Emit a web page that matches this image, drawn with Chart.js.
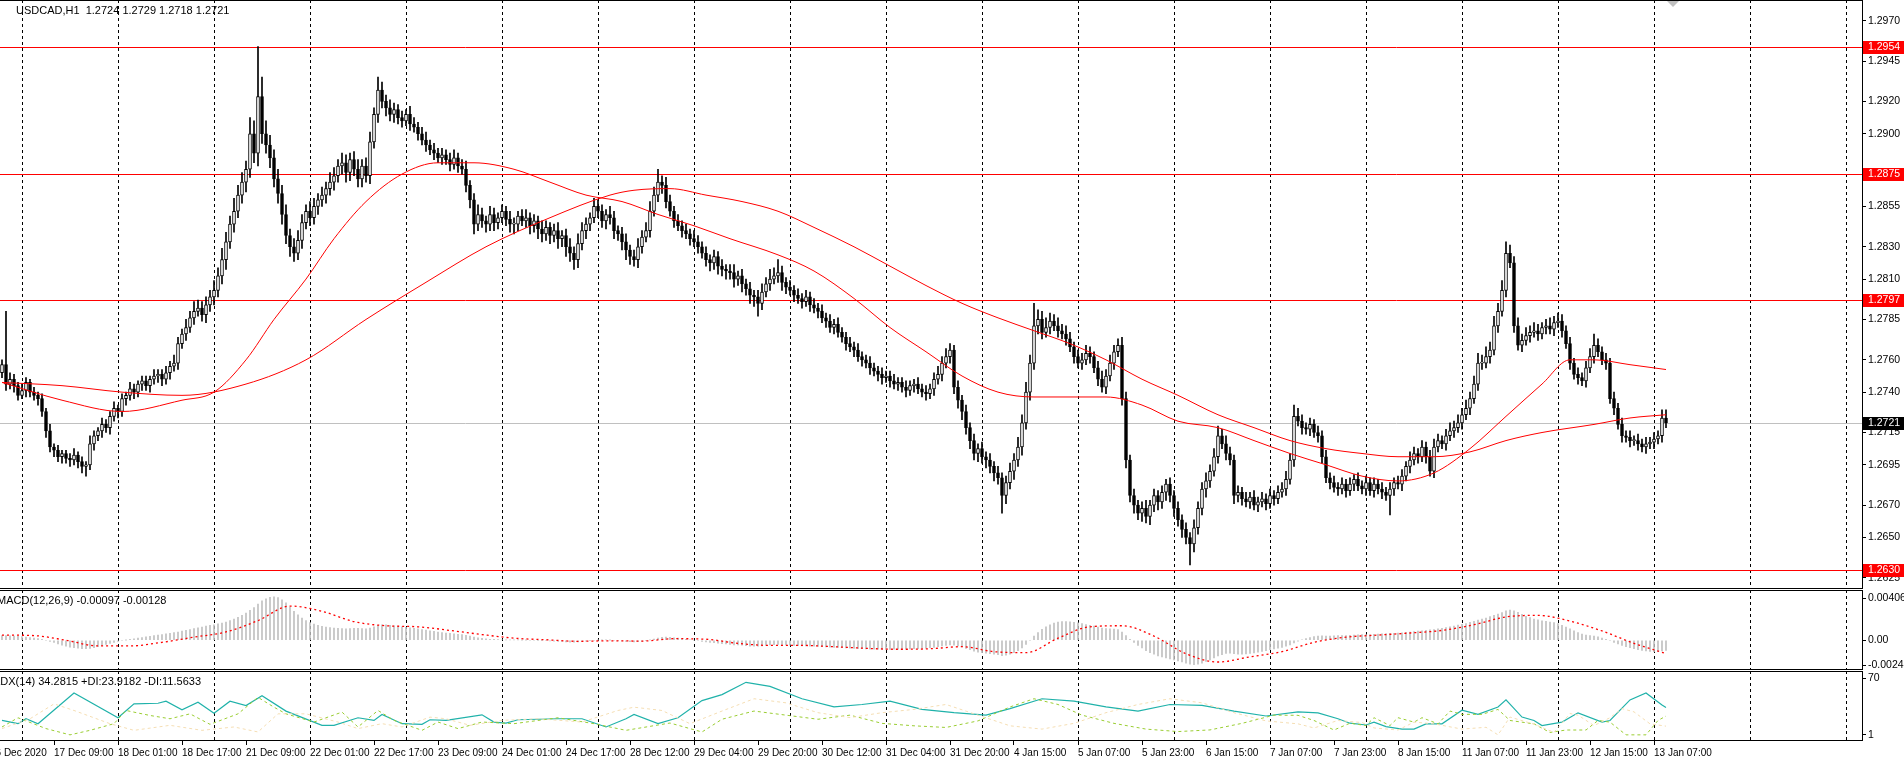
<!DOCTYPE html>
<html>
<head>
<meta charset="utf-8">
<script src="https://cdn.jsdelivr.net/npm/chart.js@4/dist/chart.umd.min.js"></script>
<style>
  html, body { margin: 0; padding: 0; background: #fff; overflow: hidden; }
  canvas { position: absolute; left: 0; }
</style>
</head>
<body>
<canvas id="main" width="1904" height="589" style="top:0"></canvas>
<canvas id="macd" width="1904" height="80" style="top:590px"></canvas>
<canvas id="adx" width="1904" height="89" style="top:671px"></canvas>
<script>
// USDCAD H1, prices in pips (2757 -> 1.2757)
const firstOpen = 2752;
const closes = [
  2757,2745,2748,2744,2738,2741,2746,2740,2738,2736,
  2728,2716,2706,2704,2700,2702,2699,2698,2701,2697,
  2694,2695,2708,2713,2716,2720,2718,2725,2730,2728,
  2736,2738,2742,2740,2745,2747,2744,2748,2750,2751,
  2748,2752,2756,2758,2770,2776,2780,2786,2790,2792,
  2788,2794,2799,2803,2812,2822,2833,2844,2852,2862,
  2870,2878,2900,2888,2923,2900,2893,2885,2872,2863,
  2850,2837,2830,2826,2834,2845,2852,2848,2855,2859,
  2862,2866,2870,2874,2880,2882,2876,2884,2878,2872,
  2880,2874,2895,2912,2927,2920,2916,2912,2915,2910,
  2908,2912,2906,2904,2900,2896,2893,2890,2888,2885,
  2887,2884,2881,2885,2880,2878,2868,2859,2844,2850,
  2846,2844,2850,2845,2848,2852,2847,2844,2844,2849,
  2846,2848,2843,2846,2841,2838,2842,2837,2840,2835,
  2837,2830,2826,2822,2832,2840,2844,2848,2855,2852,
  2846,2850,2848,2840,2838,2833,2828,2824,2822,2830,
  2836,2840,2852,2862,2870,2868,2858,2852,2846,2843,
  2840,2838,2835,2833,2830,2826,2822,2820,2824,2818,
  2816,2815,2814,2810,2812,2807,2804,2800,2799,2795,
  2802,2807,2810,2812,2814,2808,2805,2803,2800,2798,
  2796,2799,2794,2792,2790,2786,2784,2780,2782,2777,
  2774,2770,2768,2766,2762,2760,2758,2755,2753,2751,
  2749,2750,2747,2745,2746,2743,2741,2744,2745,2742,
  2740,2739,2742,2748,2751,2758,2762,2766,2743,2735,
  2728,2718,2710,2702,2705,2700,2698,2694,2690,2687,
  2676,2684,2691,2698,2706,2721,2740,2758,2781,2785,
  2777,2780,2784,2781,2778,2776,2773,2768,2762,2758,
  2760,2764,2762,2755,2748,2743,2750,2758,2765,2769,
  2736,2698,2676,2670,2665,2668,2663,2670,2676,2672,
  2678,2683,2676,2668,2661,2655,2650,2646,2656,2668,
  2680,2685,2691,2700,2713,2708,2702,2698,2676,2678,
  2674,2672,2675,2670,2672,2674,2671,2676,2674,2678,
  2680,2686,2698,2725,2722,2718,2717,2720,2715,2713,
  2700,2687,2684,2681,2680,2683,2679,2683,2686,2682,
  2680,2684,2679,2683,2680,2678,2676,2680,2684,2683,
  2688,2694,2698,2702,2700,2706,2700,2691,2706,2710,
  2708,2713,2716,2718,2721,2726,2730,2736,2745,2758,
  2758,2762,2766,2781,2790,2803,2826,2820,2781,2769,
  2772,2775,2777,2778,2776,2780,2781,2779,2783,2784,
  2778,2770,2758,2751,2749,2747,2755,2762,2769,2765,
  2760,2758,2736,2730,2720,2713,2712,2710,2710,2708,
  2706,2708,2709,2711,2713,2724,2721
];
// wick length above the body / below the body, pips
const wickUp = [
  3,33,4,3,2,4,3,2,3,2, 3,2,4,2,3,2,2,3,4,2, 3,2,5,3,2,4,3,3,4,2, 3,2,4,3,2,3,3,2,4,3,
  3,4,3,5,4,3,5,4,6,5, 4,5,4,6,5,7,6,5,8,6, 6,5,10,8,31,12,8,6,5,6, 5,6,4,5,6,5,4,6,5,4,
  5,4,6,5,4,6,5,4,5,6, 4,5,6,4,8,5,4,5,4,3, 4,3,5,4,3,4,5,3,4,3, 4,3,4,5,3,4,5,3,4,6,
  4,3,5,4,3,4,3,5,4,3, 4,5,3,4,3,5,4,3,4,5, 3,4,5,4,6,5,4,3,5,4, 4,3,5,4,3,4,5,3,4,5,
  4,5,6,5,8,4,5,4,3,4, 3,4,3,5,4,3,4,3,4,3, 4,3,4,5,3,4,3,4,3,4, 5,4,6,5,8,4,3,4,3,4,
  3,4,3,4,3,4,3,4,3,4, 3,3,4,3,4,3,3,4,3,3, 4,3,3,4,3,3,4,3,3,4, 3,4,3,4,5,4,5,4,3,4,
  3,4,3,4,3,4,3,4,3,4, 3,4,5,4,6,5,6,5,14,6, 5,6,5,4,5,4,5,4,3,4, 4,5,4,3,4,5,4,5,4,4,
  5,4,3,4,3,4,5,3,4,3, 4,3,4,3,4,3,4,3,5,4, 4,5,4,5,6,4,5,4,3,4, 3,4,3,4,3,4,3,4,3,4,
  4,5,4,7,5,4,3,4,3,4, 3,4,3,4,3,4,3,4,3,4, 3,4,3,4,3,4,3,4,3,4, 4,3,5,4,3,4,3,4,5,4,
  3,4,5,4,5,4,5,4,5,6, 5,6,5,6,5,6,7,5,4,5, 4,5,4,5,4,3,4,5,4,5, 4,3,4,3,4,3,4,5,7,4,
  3,4,3,4,3,4,3,4,3,4, 3,4,3,4,3,5,5
];
const wickDn = [
  3,4,3,4,3,2,4,3,3,4, 3,4,3,4,3,4,3,4,3,4, 4,6,3,4,3,4,3,4,3,4, 3,4,3,4,3,4,3,4,3,4,
  4,3,4,3,4,3,4,3,4,3, 4,5,4,5,4,5,6,4,5,4, 5,6,5,6,8,6,5,6,5,6, 6,5,6,5,4,5,4,5,4,5,
  4,5,4,5,4,5,6,5,4,5, 5,4,5,4,5,4,5,4,5,4, 4,3,4,3,4,3,4,3,4,3, 4,3,4,3,4,3,4,5,6,4,
  4,5,4,5,4,3,4,5,6,4, 3,4,5,4,6,5,4,5,4,6, 5,6,5,6,5,4,5,4,3,4, 4,5,4,5,4,5,6,5,4,5,
  4,3,4,3,4,5,4,3,4,3, 4,3,4,3,4,3,4,5,4,5, 4,5,4,5,4,5,4,5,6,8, 4,3,4,3,4,5,4,3,4,3,
  4,3,4,3,4,3,4,3,4,3, 3,4,3,4,3,4,3,4,3,4, 4,3,4,3,4,3,4,3,4,3, 3,4,3,4,3,4,3,4,4,5,
  5,4,5,4,5,4,5,4,5,4, 11,5,4,5,4,5,4,5,4,5, 4,3,4,3,4,3,4,3,4,3, 4,3,4,3,4,3,4,3,4,3,
  4,5,4,5,4,5,4,5,4,5, 4,5,4,5,4,5,4,13,5,4, 4,5,4,3,4,3,4,3,5,4, 4,3,4,3,4,3,4,3,4,3,
  3,4,3,4,3,4,3,4,3,4, 4,3,4,3,4,3,4,3,4,3, 3,4,3,4,3,4,3,12,4,3, 4,3,4,3,4,3,4,3,4,3,
  3,4,3,4,3,4,3,4,3,4, 4,3,4,3,4,3,4,3,4,3, 4,3,4,3,4,3,4,3,4,3, 4,3,4,3,4,3,4,3,4,3,
  3,4,3,4,3,4,3,4,3,4, 3,4,3,4,3,4,3
];
// moving averages, [bar, pips]
const maFast = [[0,2746],[15,2735],[30,2728],[45,2735],[53,2740],[61,2760],[68,2785],[76,2810],[83,2835],[91,2858],
  [100,2875],[109,2882],[118,2882],[128,2878],[137,2870],[146,2862],[155,2858],[164,2850],[173,2843],[182,2835],
  [194,2825],[203,2815],[213,2798],[222,2780],[231,2765],[240,2750],[249,2740],[258,2737],[267,2737],[276,2737],
  [285,2732],[294,2722],[304,2718],[313,2710],[322,2702],[331,2695],[340,2688],[349,2685],[358,2690],[367,2705],
  [376,2725],[385,2745],[392,2760],[398,2760],[407,2757],[416,2754]];
const maSlow = [[0,2746],[15,2744],[30,2740],[45,2738],[61,2745],[76,2760],[91,2785],[106,2808],[121,2830],[137,2848],
  [152,2862],[158,2865],[167,2866],[176,2862],[185,2858],[194,2852],[203,2842],[213,2830],[222,2818],[231,2806],
  [240,2795],[249,2786],[258,2778],[267,2770],[276,2760],[285,2748],[294,2738],[304,2726],[313,2718],[322,2710],
  [331,2705],[340,2702],[349,2700],[358,2700],[367,2703],[376,2710],[385,2715],[398,2720],[407,2724],[416,2726]];
const levels = [2954, 2875, 2797, 2630];
const lastPrice = 2721;
const priceTicks = [2970,2945,2920,2900,2855,2830,2810,2785,2760,2740,2715,2695,2670,2650,2625];

// MACD histogram per bar, units of 0.00001
const macdHist = [
  45,44,42,40,38,36,30,25,20,15, 8,0,-10,-22,-35,-48,-58,-66,-72,-76, -80,-80,-78,-72,-62,-52,-40,-30,-20,-12,
  -5,2,8,14,20,26,32,38,44,50, 56,62,68,74,80,88,96,104,112,120, 128,136,144,150,158,166,176,190,205,222,
  240,262,290,315,350,380,400,415,420,412, 390,360,320,280,245,215,190,170,155,145, 135,128,122,118,115,112,110,112,114,115,
  112,110,118,130,145,150,148,144,140,135, 130,125,120,116,110,104,98,92,86,80, 75,70,66,62,58,54,48,40,30,24,
  18,14,10,8,6,5,4,4,3,3, 2,2,0,0,-2,-3,-5,-6,-8,-10, -12,-15,-18,-18,-15,-12,-8,-4,0,2,
  3,3,2,0,-3,-6,-10,-14,-16,-14, -10,-4,4,12,22,28,30,28,24,20, 15,10,5,0,-5,-10,-15,-20,-24,-28,
  -32,-36,-40,-44,-46,-48,-52,-56,-58,-58, -55,-50,-45,-42,-40,-42,-45,-48,-50,-52, -54,-55,-56,-58,-60,-62,-64,-66,-68,-70,
  -72,-74,-76,-78,-80,-82,-84,-85,-86,-87, -88,-88,-88,-87,-86,-86,-85,-84,-82,-80, -78,-76,-72,-68,-62,-55,-50,-45,-48,-55,
  -65,-78,-92,-105,-115,-120,-125,-130,-135,-140, -148,-145,-135,-120,-100,-75,-40,0,40,75, 105,130,150,165,175,180,180,178,174,168,
  160,152,145,136,126,118,112,110,108,104, 80,45,10,-20,-50,-75,-100,-120,-135,-150, -160,-170,-180,-190,-200,-210,-220,-230,-235,-230,
  -220,-205,-190,-170,-150,-138,-128,-125,-130,-135, -135,-132,-128,-122,-115,-108,-100,-92,-84,-76, -68,-58,-45,-25,-8,5,15,25,35,40,
  42,40,40,42,44,45,46,48,50,52, 54,55,56,58,60,62,64,66,68,70, 72,76,80,84,88,92,96,100,104,110,
  116,122,130,138,146,154,162,172,182,195, 205,215,228,240,252,268,285,292,285,270, 250,232,218,205,196,188,182,176,170,160,
  145,128,110,92,75,60,50,45,40,32, 22,10,-5,-20,-35,-50,-62,-72,-82,-90, -98,-104,-108,-110,-108,-102,-97
];
const macdSignal = [[0,50],[8,45],[16,0],[24,-55],[32,-55],[40,-20],[48,30],[56,80],[64,190],[72,330],[80,280],[88,180],
  [96,140],[104,130],[112,95],[120,55],[128,20],[136,5],[144,-10],[152,-5],[160,-8],[168,15],[176,10],[184,-30],[192,-50],
  [200,-50],[208,-62],[216,-78],[224,-87],[232,-82],[240,-62],[248,-110],[256,-120],[264,20],[272,130],[280,140],[288,40],
  [296,-130],[304,-210],[312,-160],[320,-110],[328,-20],[336,30],[344,50],[352,70],[360,95],[368,150],[376,225],[384,240],
  [392,185],[400,90],[408,-30],[416,-128]];
const macdTicks = [0.00406, 0, -0.00241];

// ADX(14), [bar, value]
const adxMain = [[0,18.6],[4,14.6],[6,20.6],[9,14.6],[18,52],[29,21.8],[33,38.7],[39,39.5],[41,42],[45,31.5],[49,40.7],
  [53,27.4],[57,42],[61,36.7],[65,48.7],[71,29.9],[80,12.6],[83,12.6],[89,21.8],[93,18.6],[95,25.8],[100,14.6],[105,13.8],
  [107,19.4],[111,18.6],[120,25.4],[123,16.6],[126,15.4],[129,19.4],[139,20.6],[145,20.6],[151,10.6],[156,20.6],[158,25.8],
  [164,14.6],[169,21.8],[175,42.7],[180,50],[186,65],[192,60],[200,45],[208,35],[215,38],[222,42],[230,32],[238,28],
  [246,25],[252,33],[260,45],[268,42],[276,35],[284,30],[292,38],[300,37],[308,30],[316,24],[324,29],[329,27.8],
  [334,20.6],[337,15.2],[341,13],[343,16.5],[346,11],[350,8],[353,8],[356,14.4],[360,14.4],[365,31],[369,26],[374,35],
  [376,43.6],[380,22.7],[383,18.5],[385,12.3],[390,16.5],[394,27.8],[400,16.5],[402,18.5],[407,43.6],[411,52],[415,37.4],[416,34.3]];
const diPlus = [[0,10.6],[4,21.8],[11,8.6],[17,1],[22,6.5],[28,14.6],[31,30.7],[37,24.6],[42,20.6],[47,26.6],[52,13.8],
  [59,26.6],[64,46.7],[68,34.7],[71,26.6],[78,16.6],[85,28.7],[89,10.6],[94,30.7],[98,18.6],[105,6.5],[109,16.6],[114,8.6],
  [120,16.6],[128,14.6],[139,21.8],[148,14.6],[156,6.5],[167,15.4],[175,4.5],[180,20],[188,30],[196,25],[204,20],[212,25],
  [220,15],[228,12],[236,10],[244,18],[252,35],[258,45],[264,38],[270,25],[278,15],[286,8],[294,5],[302,7],[310,15],
  [318,25],[324,24.8],[328,18.5],[333,6.9],[337,15.2],[341,12.3],[343,21.9],[347,12.3],[349,21.9],[353,16.5],[355,21.9],
  [359,14.4],[362,30],[365,26],[370,26],[374,32],[377,18.5],[383,14.4],[387,3.9],[391,6.9],[396,6.9],[399,18.5],[402,16.5],
  [406,1],[411,1],[414,18.5],[416,23.9]];
const diMinus = [[0,8.6],[7,20.6],[13,38.7],[18,30.7],[27,14.6],[33,6.5],[42,12.6],[50,6.5],[58,10.6],[64,4.5],[69,26.6],
  [76,26.6],[84,16.6],[89,8.6],[95,14.6],[100,10.6],[107,22.6],[111,20.6],[117,12.6],[125,18.6],[134,20.6],[145,16.6],
  [154,30.7],[158,34.7],[165,30.7],[172,14.6],[180,30],[188,45],[196,40],[204,28],[212,22],[220,28],[228,32],[236,38],
  [244,25],[252,12],[260,8],[268,15],[276,28],[284,38],[292,45],[300,40],[308,28],[316,18],[324,14.4],[328,9.4],
  [334,18.5],[340,16],[343,9.4],[349,6.9],[353,16.5],[358,14.4],[365,8],[371,10.2],[374,1],[377,22.7],[383,14],[388,4],
  [392,27],[394,25],[398,12.3],[402,21.9],[405,33],[408,29],[412,14.4],[416,11.6]];
const adxTicks = [70, 1];

const timeLabels = ["16 Dec 2020","17 Dec 09:00","18 Dec 01:00","18 Dec 17:00","21 Dec 09:00","22 Dec 01:00",
  "22 Dec 17:00","23 Dec 09:00","24 Dec 01:00","24 Dec 17:00","28 Dec 12:00","29 Dec 04:00","29 Dec 20:00",
  "30 Dec 12:00","31 Dec 04:00","31 Dec 20:00","4 Jan 15:00","5 Jan 07:00","5 Jan 23:00","6 Jan 15:00",
  "7 Jan 07:00","7 Jan 23:00","8 Jan 15:00","11 Jan 07:00","11 Jan 23:00","12 Jan 15:00","13 Jan 07:00"];
const firstLabelBar = -3, labelStep = 16;
const firstDayBar = 5, dayStep = 24;

const FONT = "Liberation Sans";
const px = p => 1 + p / 10000;
const pairs = (arr, f) => arr.map(([x, v]) => ({ x, y: f(v) }));

const opens = closes.map((c, i) => i ? closes[i - 1] : firstOpen);
const bodies = closes.map((c, i) => ({ x: i, y: [px(opens[i]), px(c)] }));
const wicks = closes.map((c, i) => ({
  x: i,
  y: [px(Math.min(opens[i], c) - wickDn[i]), px(Math.max(opens[i], c) + wickUp[i])]
}));
const bodyFill = closes.map((c, i) => c >= opens[i] ? "#ffffff" : "#000000");

function xScale(show) {
  const s = {
    type: "linear", min: -0.5, max: 465, offset: false,
    display: show,
    grid: { display: false },
    border: { display: false }
  };
  if (show) {
    s.grid = { display: true, drawOnChartArea: false, drawTicks: true, tickLength: 4, color: "#000" };
    s.ticks = {
      autoSkip: false, maxRotation: 0, align: "start", padding: 2,
      color: "#000", font: { family: FONT, size: 10 },
      callback: (v, i) => timeLabels[i]
    };
    s.afterBuildTicks = sc => { sc.ticks = timeLabels.map((t, k) => ({ value: firstLabelBar + k * labelStep })); };
    s.afterFit = sc => { sc.height = 19; sc.paddingLeft = 0; sc.paddingRight = 0; };
  }
  return s;
}

function yScale(min, max, tickVals, fmt) {
  return {
    position: "right", min, max,
    grid: { drawOnChartArea: false, drawTicks: true, tickLength: 4, color: "#000" },
    border: { display: false },
    ticks: { color: "#000", padding: 2, font: { family: FONT, size: 10.5 }, callback: v => fmt(v) },
    afterBuildTicks: sc => { sc.ticks = tickVals.map(v => ({ value: v })); },
    afterFit: sc => { sc.width = 42; sc.paddingTop = 0; sc.paddingBottom = 0; }
  };
}

// day separators and panel frame
function framePlugin(title, titleX) {
  return {
    id: "frame",
    beforeDatasetsDraw(chart) {
      const { ctx, chartArea: a, scales: { x } } = chart;
      ctx.save();
      ctx.strokeStyle = "#000";
      ctx.lineWidth = 1;
      ctx.setLineDash([3, 3]);
      for (let b = firstDayBar; b < 465; b += dayStep) {
        const xp = Math.round(x.getPixelForValue(b)) + 0.5;
        ctx.beginPath(); ctx.moveTo(xp, a.top); ctx.lineTo(xp, a.bottom); ctx.stroke();
      }
      ctx.restore();
    },
    afterDraw(chart) {
      const { ctx, chartArea: a } = chart;
      ctx.save();
      ctx.strokeStyle = "#000";
      ctx.lineWidth = 1;
      ctx.strokeRect(-1, a.top + 0.5, a.right + 1.5, a.bottom - a.top - 1);
      ctx.fillStyle = "#000";
      ctx.font = "11px " + FONT;
      ctx.textBaseline = "middle";
      ctx.fillText(title, titleX, a.top + 11);
      ctx.restore();
    }
  };
}

const levelPlugin = {
  id: "levels",
  beforeDatasetsDraw(chart) {
    const { ctx, chartArea: a, scales: { y } } = chart;
    ctx.save();
    ctx.lineWidth = 1;
    const yl = Math.round(y.getPixelForValue(px(lastPrice))) + 0.5;
    ctx.strokeStyle = "#c0c0c0";
    ctx.beginPath(); ctx.moveTo(a.left, yl); ctx.lineTo(a.right, yl); ctx.stroke();
    ctx.strokeStyle = "#ff0000";
    levels.forEach(l => {
      const yp = Math.round(y.getPixelForValue(px(l))) + 0.5;
      ctx.beginPath(); ctx.moveTo(a.left, yp); ctx.lineTo(a.right, yp); ctx.stroke();
    });
    ctx.restore();
  },
  afterDraw(chart) {
    const { ctx, chartArea: a, scales: { y } } = chart;
    ctx.save();
    ctx.font = "10.5px " + FONT;
    ctx.textBaseline = "middle";
    const tag = (p, bg) => {
      const yp = Math.round(y.getPixelForValue(px(p)));
      ctx.fillStyle = bg;
      ctx.fillRect(a.right + 1, yp - 6, 42, 13);
      ctx.fillStyle = "#fff";
      ctx.fillText(px(p).toFixed(4), a.right + 6, yp + 0.5);
    };
    levels.forEach(l => tag(l, "#ff0000"));
    tag(lastPrice, "#000000");
    // small grey marker at the top
    ctx.fillStyle = "#c0c0c0";
    ctx.beginPath(); ctx.moveTo(1667, 1); ctx.lineTo(1679, 1); ctx.lineTo(1673, 7); ctx.closePath(); ctx.fill();
    ctx.restore();
  }
};

const base = {
  responsive: false, animation: false, devicePixelRatio: 1,
  layout: { padding: 0 },
  plugins: { legend: { display: false }, tooltip: { enabled: false } }
};

new Chart(document.getElementById("main"), {
  type: "bar",
  data: {
    datasets: [
      { type: "line", data: pairs(maFast, px), borderColor: "#ff0000", borderWidth: 1, pointRadius: 0,
        cubicInterpolationMode: "monotone", order: 0 },
      { type: "line", data: pairs(maSlow, px), borderColor: "#ff0000", borderWidth: 1, pointRadius: 0,
        cubicInterpolationMode: "monotone", order: 0 },
      { data: bodies, backgroundColor: bodyFill, borderColor: "#000", borderWidth: 1, borderSkipped: false,
        barThickness: 3, grouped: false, minBarLength: 1, order: 1 },
      { data: wicks, backgroundColor: "#000", borderWidth: 0, barThickness: 1, grouped: false, order: 2 }
    ]
  },
  options: {
    ...base,
    scales: {
      x: xScale(false),
      y: yScale(1.26181, 1.29828, priceTicks.map(px), v => v.toFixed(4))
    }
  },
  plugins: [framePlugin("USDCAD,H1  1.2724 1.2729 1.2718 1.2721", 16), levelPlugin]
});

new Chart(document.getElementById("macd"), {
  type: "bar",
  data: {
    datasets: [
      { type: "line", data: pairs(macdSignal, v => v / 100000), borderColor: "#ff0000", borderWidth: 1.3,
        borderDash: [2, 3], pointRadius: 0, cubicInterpolationMode: "monotone", order: 0 },
      { data: macdHist.map((v, i) => ({ x: i, y: v / 100000 })), backgroundColor: "#c0c0c0",
        barThickness: 1, grouped: false, order: 1 }
    ]
  },
  options: {
    ...base,
    scales: {
      x: xScale(false),
      y: yScale(-0.00287, 0.00485, macdTicks, v => v === 0 ? "0.00" : v.toFixed(5))
    }
  },
  plugins: [framePlugin("MACD(12,26,9) -0.00097 -0.00128", -3)]
});

new Chart(document.getElementById("adx"), {
  type: "line",
  data: {
    datasets: [
      { data: pairs(diMinus, v => v), borderColor: "#f5deb3", borderWidth: 1, borderDash: [3, 3], pointRadius: 0 },
      { data: pairs(diPlus, v => v), borderColor: "#9acd32", borderWidth: 1, borderDash: [3, 3], pointRadius: 0 },
      { data: pairs(adxMain, v => v), borderColor: "#20b2aa", borderWidth: 1.2, pointRadius: 0 }
    ]
  },
  options: {
    ...base,
    scales: {
      x: xScale(true),
      y: yScale(-6.5, 78.8, adxTicks, v => String(v))
    }
  },
  plugins: [framePlugin("ADX(14) 34.2815 +DI:23.9182 -DI:11.5633", -7)]
});
</script>
</body>
</html>
